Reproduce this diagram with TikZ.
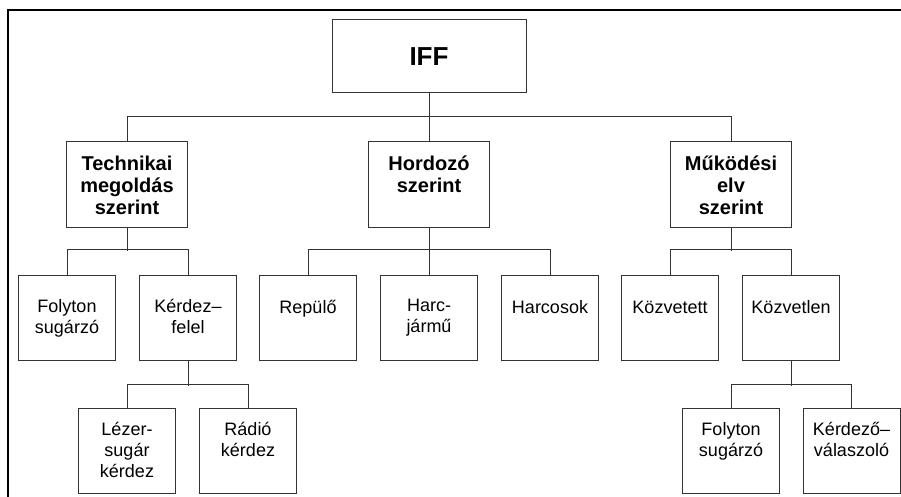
\documentclass[tikz,border=0pt]{standalone}
\usepackage{fontspec}
\setmainfont{Liberation Sans}
\usetikzlibrary{positioning}

\begin{document}
\begin{tikzpicture}[x=1pt, y=-1pt,
    box/.style={draw=black!80, line width=1pt, inner sep=0pt},
    rootbox/.style={box, minimum width=194pt, minimum height=73pt, font=\fontsize{26}{30}\selectfont\bfseries},
    catbox/.style={box, minimum width=121pt, minimum height=85pt},
    leaf/.style={box, minimum width=97pt, minimum height=85pt},
    cattext/.style={anchor=north, inner sep=0pt, align=center, font=\fontsize{20}{22}\selectfont\bfseries, execute at begin node=\strut},
    leaftext/.style={anchor=north, inner sep=0pt, align=center, font=\fontsize{18}{21}\selectfont, execute at begin node=\strut},
    conn/.style={draw=black!80, line width=1pt}
  ]
  \useasboundingbox (0,0) rectangle (901,497);

  % Frame
  \draw[line width=2pt] (8,497) -- (8,10) -- (901,10);

  % Root
  \node[rootbox] (iff) at (429,56.5) {IFF};

  % Categories
  \node[catbox] (tech) at (127,184.5) {};
  \node[catbox] (hord) at (429,184.5) {};
  \node[catbox] (mukod) at (731,184.5) {};
  \node[cattext, below=14pt of tech.north] (tech-t) {Technikai\\megoldás\\szerint};
  \node[cattext, below=14pt of hord.north] (hord-t) {Hordozó\\szerint};
  \node[cattext, below=14pt of mukod.north] (mukod-t) {Működési\\elv\\szerint};

  % Third level
  \node[leaf] (folyton) at (67,317.5) {};
  \node[leaf] (kerdez) at (188,317.5) {};
  \node[leaf] (repulo) at (308,317.5) {};
  \node[leaf] (harcjar) at (429,317.5) {};
  \node[leaf] (harcos) at (550,317.5) {};
  \node[leaf] (kozvetett) at (670,317.5) {};
  \node[leaf] (kozvetlen) at (791,317.5) {};
  \node[leaftext, below=24.5pt of folyton.north] (folyton-t) {Folyton\\sugárzó};
  \node[leaftext, below=24.5pt of kerdez.north] (kerdez-t) {Kérdez–\\felel};
  \node[leaftext, below=24.5pt of repulo.north] (repulo-t) {Repülő};
  \node[leaftext, below=24.5pt of harcjar.north] (harcjar-t) {Harc-\\jármű};
  \node[leaftext, below=24.5pt of harcos.north] (harcos-t) {Harcosok};
  \node[leaftext, below=24.5pt of kozvetett.north] (kozvetett-t) {Közvetett};
  \node[leaftext, below=24.5pt of kozvetlen.north] (kozvetlen-t) {Közvetlen};

  % Fourth level
  \node[leaf] (lezer) at (127,450.5) {};
  \node[leaf] (radio) at (248,450.5) {};
  \node[leaf] (folyton2) at (731,450.5) {};
  \node[leaf] (valasz) at (851.5,450.5) {};
  \node[leaftext, below=15pt of lezer.north] (lezer-t) {Lézer-\\sugár\\kérdez};
  \node[leaftext, below=15pt of radio.north] (radio-t) {Rádió\\kérdez};
  \node[leaftext, below=15pt of folyton2.north] (folyton2-t) {Folyton\\sugárzó};
  \node[leaftext, below=15pt of valasz.north] (valasz-t) {Kérdező–\\válaszoló};

  % Connectors
  \draw[conn] (iff.south) -- (hord.north);
  \draw[conn] (tech.north) -- ++(0,-25) -| (mukod.north);

  \draw[conn] (tech.south) -- ++(0,23);
  \draw[conn] (folyton.north) -- ++(0,-25) -| (kerdez.north);
  \draw[conn] (hord.south) -- (harcjar.north);
  \draw[conn] (repulo.north) -- ++(0,-25) -| (harcos.north);
  \draw[conn] (mukod.south) -- ++(0,23);
  \draw[conn] (kozvetett.north) -- ++(0,-25) -| (kozvetlen.north);

  \draw[conn] (kerdez.south) -- ++(0,25);
  \draw[conn] (lezer.north) -- ++(0,-23) -| (radio.north);
  \draw[conn] (kozvetlen.south) -- ++(0,25);
  \draw[conn] (folyton2.north) -- ++(0,-23) -| (valasz.north);
\end{tikzpicture}
\end{document}
